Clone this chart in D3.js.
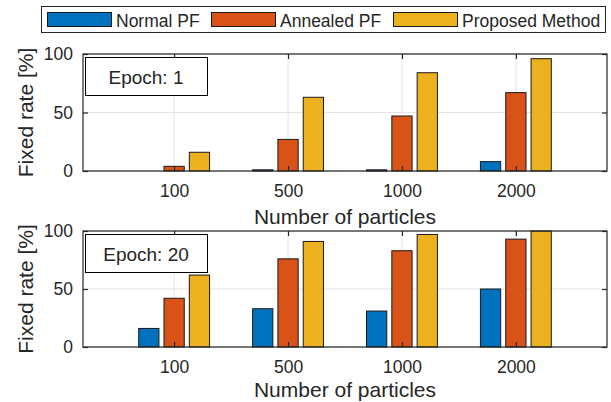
<!DOCTYPE html>
<html>
<head>
<meta charset="utf-8">
<script src="https://cdn.jsdelivr.net/npm/d3@7"></script>
<style>
  body { margin: 0; background: #fff; }
  text { font-family: "Liberation Sans", Arial, sans-serif; fill: #262626; }
</style>
</head>
<body>
<div class="curr-graff"></div>
<script>
// data
const categories = ["100", "500", "1000", "2000"];
const seriesNames = ["Normal PF", "Annealed PF", "Proposed Method"];
const seriesColors = ["#0072BD", "#D95319", "#EDB120"];

const epoch1Normal = [0, 1, 1, 8];
const epoch1Annealed = [4, 27, 47, 67];
const epoch1Proposed = [16, 63, 84, 96];

const epoch20Normal = [16, 33, 31, 50];
const epoch20Annealed = [42, 76, 83, 93];
const epoch20Proposed = [62, 91, 97, 100];

const yTicks = [0, 50, 100];

const panels = [
  { title: "Epoch: 1", series: [epoch1Normal, epoch1Annealed, epoch1Proposed], top: 54, bottom: 171, labelY: 224 },
  { title: "Epoch: 20", series: [epoch20Normal, epoch20Annealed, epoch20Proposed], top: 231, bottom: 347, labelY: 397 }
];

const width = 611;
const height = 402;
const left = 83, right = 607;
const tickFont = 17.5;
const labelFont = 21;
const axisColor = "#262626";

const svg = d3.select(".curr-graff")
  .append("svg")
  .attr("width", width)
  .attr("height", height);

// grouped bar layout like MATLAB: group width 3/4.5, bars 0.8 of slot
const groupWidth = Math.min(0.8, 3 / (3 + 1.5));
const barWidth = groupWidth / 3 * 0.8;
const offsets = [-1, 0, 1].map(k => k * groupWidth / 3);

const x = d3.scaleLinear().domain([0.2, 4.8]).range([left, right]);
const xTickVals = categories.map((d, i) => i + 1);

panels.forEach(p => {
  const y = d3.scaleLinear().domain([0, 100]).range([p.bottom, p.top]);
  const g = svg.append("g");

  // grid
  g.append("g")
    .selectAll("line")
    .data(xTickVals)
    .enter()
    .append("line")
    .attr("x1", d => x(d)).attr("x2", d => x(d))
    .attr("y1", p.top).attr("y2", p.bottom)
    .attr("stroke", "#e3e3e3").attr("stroke-width", 1);
  g.append("g")
    .selectAll("line")
    .data(yTicks)
    .enter()
    .append("line")
    .attr("x1", left).attr("x2", right)
    .attr("y1", d => y(d)).attr("y2", d => y(d))
    .attr("stroke", "#e3e3e3").attr("stroke-width", 1);

  // bars
  p.series.forEach((vals, s) => {
    g.append("g")
      .selectAll("rect")
      .data(vals)
      .enter()
      .append("rect")
      .attr("x", (d, i) => x(i + 1 + offsets[s] - barWidth / 2))
      .attr("width", x(barWidth) - x(0))
      .attr("y", d => y(d))
      .attr("height", d => y(0) - y(d))
      .attr("fill", seriesColors[s])
      .attr("stroke", "#1a1a1a")
      .attr("stroke-width", 1);
  });

  // box
  g.append("rect")
    .attr("x", left).attr("y", p.top)
    .attr("width", right - left).attr("height", p.bottom - p.top)
    .attr("fill", "none").attr("stroke", axisColor).attr("stroke-width", 1.2);

  // axes with inward ticks
  g.append("g")
    .attr("transform", `translate(0,${p.bottom})`)
    .call(d3.axisBottom(x).tickValues(xTickVals).tickFormat((d, i) => categories[i]).tickSize(-5).tickPadding(14));
  g.append("g")
    .attr("transform", `translate(0,${p.top})`)
    .call(d3.axisTop(x).tickValues(xTickVals).tickFormat("").tickSize(-5));
  g.append("g")
    .attr("transform", `translate(${left},0)`)
    .call(d3.axisLeft(y).tickValues(yTicks).tickSize(-5).tickPadding(10));
  g.append("g")
    .attr("transform", `translate(${right},0)`)
    .call(d3.axisRight(y).tickValues(yTicks).tickFormat("").tickSize(-5));

  g.selectAll(".domain").remove();
  g.selectAll(".tick line").attr("stroke", axisColor).attr("stroke-width", 1.2);
  g.selectAll(".tick text")
    .style("font-family", "'Liberation Sans', Arial, sans-serif")
    .style("font-size", tickFont + "px")
    .attr("fill", axisColor);

  // labels
  g.append("text")
    .attr("x", (left + right) / 2)
    .attr("y", p.labelY)
    .attr("text-anchor", "middle")
    .style("font-size", labelFont + "px")
    .text("Number of particles");
  g.append("text")
    .attr("transform", `translate(33,${(p.top + p.bottom) / 2}) rotate(-90)`)
    .attr("text-anchor", "middle")
    .style("font-size", labelFont + "px")
    .text("Fixed rate [%]");

  // epoch annotation box
  g.append("rect")
    .attr("x", 85.5).attr("y", p.top + 3.5)
    .attr("width", 122).attr("height", 38)
    .attr("fill", "#fff").attr("stroke", "#000").attr("stroke-width", 1);
  g.append("text")
    .attr("x", 146)
    .attr("y", p.top + 29.5)
    .attr("text-anchor", "middle")
    .style("font-size", "19px")
    .text(p.title);
});

// legend
const legend = svg.append("g");
legend.append("rect")
  .attr("x", 41.5).attr("y", 6.5)
  .attr("width", 564).attr("height", 26)
  .attr("fill", "#fff").attr("stroke", axisColor).attr("stroke-width", 1);
const legendStarts = [47, 211, 393];
seriesNames.forEach((name, i) => {
  legend.append("rect")
    .attr("x", legendStarts[i] + 0.5).attr("y", 12.5)
    .attr("width", 64).attr("height", 14)
    .attr("fill", seriesColors[i])
    .attr("stroke", "#1a1a1a").attr("stroke-width", 1);
  legend.append("text")
    .attr("x", legendStarts[i] + 69)
    .attr("y", 26.5)
    .style("font-size", "17.5px")
    .text(name);
});
</script>
</body>
</html>
